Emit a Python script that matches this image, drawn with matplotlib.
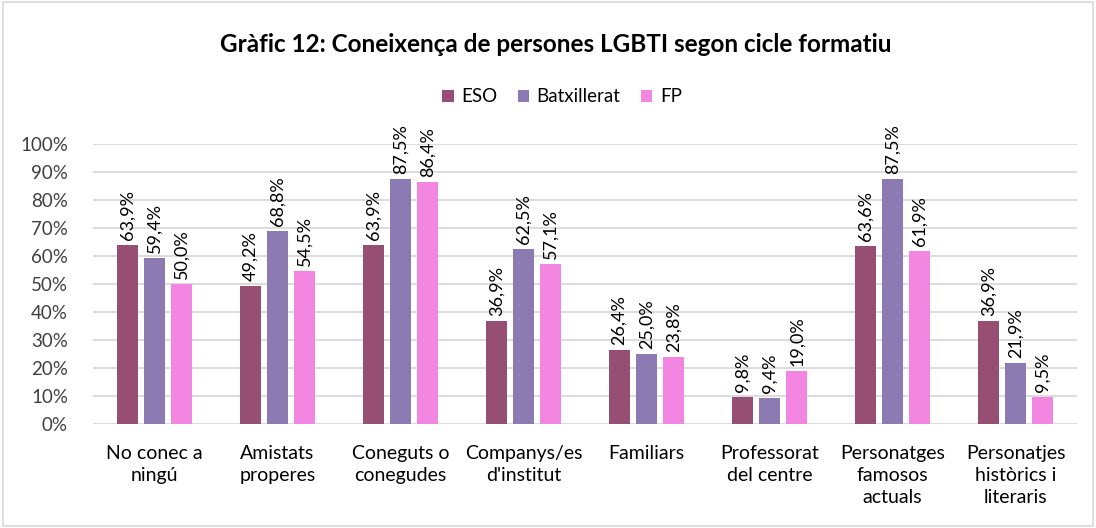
import numpy as np
import matplotlib.pyplot as plt
from matplotlib.patches import Rectangle

plt.rcParams['font.family'] = ['Lato', 'DejaVu Sans']

categories = ["No conec a\nningú", "Amistats\nproperes", "Coneguts o\nconegudes",
              "Companys/es\nd'institut", "Familiars", "Professorat\ndel centre",
              "Personatges\nfamosos\nactuals", "Personatjes\nhistòrics i\nliteraris"]
eso = [63.9, 49.2, 63.9, 36.9, 26.4, 9.8, 63.6, 36.9]
batx = [59.4, 68.8, 87.5, 62.5, 25.0, 9.4, 87.5, 21.9]
fp = [50.0, 54.5, 86.4, 57.1, 23.8, 19.0, 61.9, 9.5]
series_names = ["ESO", "Batxillerat", "FP"]
colors = ["#964F72", "#8B7BB2", "#F286E0"]

fig = plt.figure(figsize=(10.96, 5.28), dpi=100)
ax = fig.add_axes([93 / 1096, 1 - 424 / 528, 984 / 1096, 280 / 528])

x = np.arange(len(categories))
w = 0.172
step = 0.221
for i, (vals, name, c) in enumerate(zip([eso, batx, fp], series_names, colors)):
    pos = x + (i - 1) * step
    bars = ax.bar(pos, vals, width=w, color=c, label=name, zorder=3)
    for p, v in zip(pos, vals):
        ax.text(p, v + 1.8, f"{v:.1f}%".replace(".", ","), rotation=90,
                ha='center', va='bottom', fontsize=13, color='black')

ax.set_xlim(-0.5, len(categories) - 0.5)
ax.set_ylim(0, 100)
ax.set_yticks(range(0, 101, 10))
ax.set_yticklabels([f"{t}%" for t in range(0, 101, 10)], fontsize=13.5, color='#404040')
ax.set_xticks(x)
ax.set_xticklabels(categories, fontsize=14, color='black', linespacing=1.35)
ax.yaxis.grid(True, color='#D9D9D9', linewidth=1.3, zorder=0)
ax.tick_params(axis='y', length=0, pad=18)
ax.tick_params(axis='x', length=0, pad=15)
for s in ax.spines.values():
    s.set_visible(False)

fig.text(556 / 1096, 1 - 45 / 528, "Gràfic 12: Coneixença de persones LGBTI segon cicle formatiu",
         ha='center', va='center', fontsize=17.5, fontweight='bold')
fig.legend(loc='center', bbox_to_anchor=(562 / 1096, 1 - 97 / 528), ncol=3, frameon=False,
           fontsize=13.5, handlelength=0.6, handleheight=0.6, handletextpad=0.4,
           columnspacing=1.1)

fig.patches.append(Rectangle((0.003, 0.003), 0.994, 0.994, transform=fig.transFigure,
                             fill=False, edgecolor='#D9D9D9', linewidth=1.2))

fig.savefig("out.png", dpi=100)
